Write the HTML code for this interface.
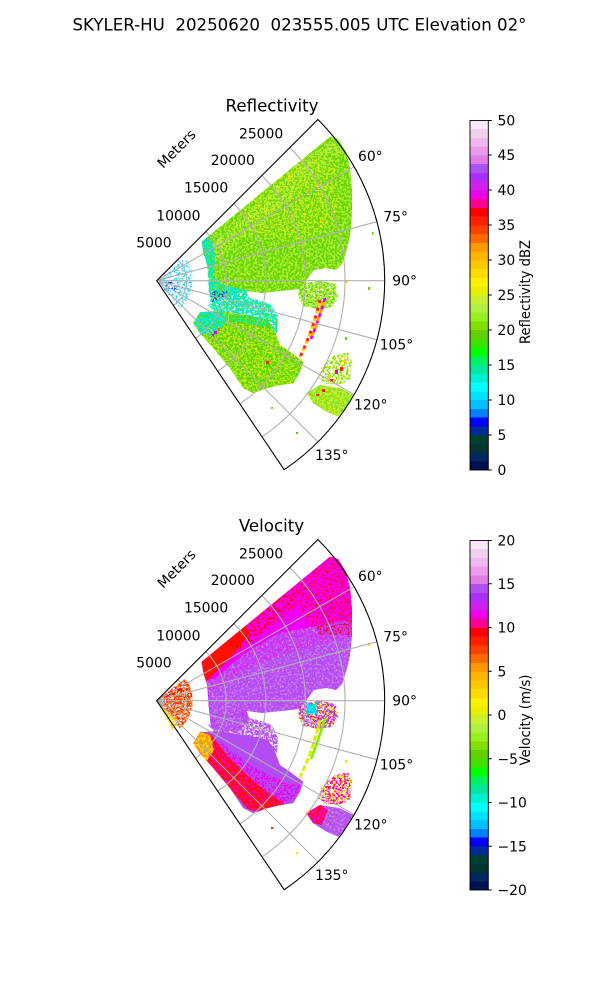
<!DOCTYPE html>
<html><head><meta charset="utf-8"><style>
html,body{margin:0;padding:0;background:#fff;}
svg{display:block;font-family:"DejaVu Sans","Liberation Sans",sans-serif;}
</style></head><body>
<svg width="600" height="1000" viewBox="0 0 600 1000" xmlns="http://www.w3.org/2000/svg">
<defs>
<filter id="f70" filterUnits="userSpaceOnUse" x="0" y="0" width="600" height="1000" color-interpolation-filters="sRGB">
<feTurbulence type="fractalNoise" baseFrequency="0.45" numOctaves="2" seed="5" result="t"/>
<feColorMatrix in="t" type="matrix" values="0 0 0 0 0 0 0 0 0 0 0 0 0 0 0 30 0 0 0 -13.2" result="m"/>
<feComposite in="SourceGraphic" in2="m" operator="in"/>
</filter>
<filter id="f50" filterUnits="userSpaceOnUse" x="0" y="0" width="600" height="1000" color-interpolation-filters="sRGB">
<feTurbulence type="fractalNoise" baseFrequency="0.45" numOctaves="2" seed="3" result="t"/>
<feColorMatrix in="t" type="matrix" values="0 0 0 0 0 0 0 0 0 0 0 0 0 0 0 30 0 0 0 -15" result="m"/>
<feComposite in="SourceGraphic" in2="m" operator="in"/>
</filter>
<filter id="f30" filterUnits="userSpaceOnUse" x="0" y="0" width="600" height="1000" color-interpolation-filters="sRGB">
<feTurbulence type="fractalNoise" baseFrequency="0.5" numOctaves="2" seed="7" result="t"/>
<feColorMatrix in="t" type="matrix" values="0 0 0 0 0 0 0 0 0 0 0 0 0 0 0 30 0 0 0 -16.8" result="m"/>
<feComposite in="SourceGraphic" in2="m" operator="in"/>
</filter>
<filter id="f12" filterUnits="userSpaceOnUse" x="0" y="0" width="600" height="1000" color-interpolation-filters="sRGB">
<feTurbulence type="fractalNoise" baseFrequency="0.5" numOctaves="2" seed="11" result="t"/>
<feColorMatrix in="t" type="matrix" values="0 0 0 0 0 0 0 0 0 0 0 0 0 0 0 30 0 0 0 -18.6" result="m"/>
<feComposite in="SourceGraphic" in2="m" operator="in"/>
</filter>
<filter id="f12b" filterUnits="userSpaceOnUse" x="0" y="0" width="600" height="1000" color-interpolation-filters="sRGB">
<feTurbulence type="fractalNoise" baseFrequency="0.5" numOctaves="2" seed="23" result="t"/>
<feColorMatrix in="t" type="matrix" values="0 0 0 0 0 0 0 0 0 0 0 0 0 0 0 30 0 0 0 -18.6" result="m"/>
<feComposite in="SourceGraphic" in2="m" operator="in"/>
</filter>

<path id="pM" d="M201.7,241.7 L330,136.7 L338,139 L346,152 L350,168 L352,190 L352,215 L350,236 L346,252 L342,264 L336,270 L326,268 L314,270 L308,278 L300,289 L262,293 L247,291 L225,297 L211,300 L210,285 L208,265 L204,255 Z"/>
<path id="pLR" d="M300,284 L320,281 L336,284 L338,298 L332,307 L318,309 L303,306 L298,296 Z"/>
<path id="pCI" d="M201.7,241.7 L208,237 L214,246 L215,262 L213,276 L222,285 L246,290 L250,300 L240,310 L224,312 L211,308 L209,290 L207,265 L203,252 Z"/>
<path id="pMC" d="M222,297 L240,296 L258,300 L272,305 L278,318 L277,333 L268,330 L253,318 L235,313 L215,312 L208,305 Z"/>
<path id="pB" d="M193.3,323.3 L200,312.3 L216.7,311 L233.3,313.3 L253.3,316.7 L268.3,320 L275,331.7 L280,345 L290,351.7 L303.3,361.7 L300,371.7 L293.3,383.3 L280,385 L266.7,388.3 L253.3,393.3 L243.3,388.3 L230,368.3 L213.3,348.3 L200,333.3 Z"/>
<path id="pSES" d="M321.7,366.7 L333,356 L348,352 L352,362 L350,380 L338,385 L326.7,384 L318,378 Z"/>
<path id="pSEB" d="M306.7,393.3 L320,385 L340,388.3 L353.3,395 L346.7,406.7 L338.3,416.7 L326.7,411.7 L313.3,403.3 Z"/>
<path id="pNC" d="M156.7,280.7 L185.1,258.5 A36,36 0 0 1 179.8,308.3 Z"/>
<clipPath id="cM"><use href="#pM"/></clipPath>
<clipPath id="cB"><use href="#pB"/></clipPath>

<g id="grid" fill="none" stroke="#b0b0b0" stroke-width="1.1">
<path d="M156.7,280.7 L354.2,166.7 M156.7,280.7 L376.9,221.7 M156.7,280.7 L384.7,280.7 M156.7,280.7 L376.9,339.7 M156.7,280.7 L354.2,394.7 M156.7,280.7 L317.9,441.9"/>
<path d="M177.84,259.56 A29.9,29.9 0 0 1 173.42,305.49 M205.84,231.56 A69.5,69.5 0 0 1 195.56,338.32 M233.84,203.56 A109.1,109.1 0 0 1 217.71,371.14 M261.85,175.55 A148.7,148.7 0 0 1 239.85,403.97 M289.85,147.55 A188.3,188.3 0 0 1 262,436.8"/>
</g>
<path id="frame" d="M156.7,280.7 L317.9,119.5 A228,228 0 0 1 284.2,469.7 Z" fill="none" stroke="#000" stroke-width="1.1"/>
<g id="lbl" font-size="13.9" fill="#000">
<text x="239" y="138.3">25000</text>
<text x="210.7" y="165">20000</text>
<text x="184" y="192.7">15000</text>
<text x="156.3" y="220.7">10000</text>
<text x="136.3" y="247.3">5000</text>
<text transform="translate(176.7,149) rotate(-45)" text-anchor="middle" y="4.5">Meters</text>
<text x="358" y="161">60°</text>
<text x="383.3" y="221.7">75°</text>
<text x="392.3" y="285.3">90°</text>
<text x="379.7" y="349.3">105°</text>
<text x="354" y="409.3">120°</text>
<text x="315" y="460">135°</text>
</g>

<linearGradient id="cmap" x1="0" y1="1" x2="0" y2="0">
<stop offset="0" stop-color="#001050"/><stop offset="0.025" stop-color="#001050"/>
<stop offset="0.025" stop-color="#002860"/><stop offset="0.05" stop-color="#002860"/>
<stop offset="0.05" stop-color="#003830"/><stop offset="0.075" stop-color="#003830"/>
<stop offset="0.075" stop-color="#004030"/><stop offset="0.1" stop-color="#004030"/>
<stop offset="0.1" stop-color="#002a9a"/><stop offset="0.125" stop-color="#002a9a"/>
<stop offset="0.125" stop-color="#0000ff"/><stop offset="0.15" stop-color="#0000ff"/>
<stop offset="0.15" stop-color="#0080ff"/><stop offset="0.175" stop-color="#0080ff"/>
<stop offset="0.175" stop-color="#00c0ff"/><stop offset="0.2" stop-color="#00c0ff"/>
<stop offset="0.2" stop-color="#00e0ff"/><stop offset="0.225" stop-color="#00e0ff"/>
<stop offset="0.225" stop-color="#00ffff"/><stop offset="0.25" stop-color="#00ffff"/>
<stop offset="0.25" stop-color="#00f0d0"/><stop offset="0.275" stop-color="#00f0d0"/>
<stop offset="0.275" stop-color="#00e8a0"/><stop offset="0.3" stop-color="#00e8a0"/>
<stop offset="0.3" stop-color="#00f060"/><stop offset="0.325" stop-color="#00f060"/>
<stop offset="0.325" stop-color="#00ff00"/><stop offset="0.35" stop-color="#00ff00"/>
<stop offset="0.35" stop-color="#40e000"/><stop offset="0.375" stop-color="#40e000"/>
<stop offset="0.375" stop-color="#60d000"/><stop offset="0.4" stop-color="#60d000"/>
<stop offset="0.4" stop-color="#80e000"/><stop offset="0.425" stop-color="#80e000"/>
<stop offset="0.425" stop-color="#98f020"/><stop offset="0.45" stop-color="#98f020"/>
<stop offset="0.45" stop-color="#b0f040"/><stop offset="0.475" stop-color="#b0f040"/>
<stop offset="0.475" stop-color="#c8f030"/><stop offset="0.5" stop-color="#c8f030"/>
<stop offset="0.5" stop-color="#e8f000"/><stop offset="0.525" stop-color="#e8f000"/>
<stop offset="0.525" stop-color="#fff000"/><stop offset="0.55" stop-color="#fff000"/>
<stop offset="0.55" stop-color="#ffdc00"/><stop offset="0.575" stop-color="#ffdc00"/>
<stop offset="0.575" stop-color="#ffc800"/><stop offset="0.6" stop-color="#ffc800"/>
<stop offset="0.6" stop-color="#ffb400"/><stop offset="0.625" stop-color="#ffb400"/>
<stop offset="0.625" stop-color="#ff9800"/><stop offset="0.65" stop-color="#ff9800"/>
<stop offset="0.65" stop-color="#ff6a00"/><stop offset="0.675" stop-color="#ff6a00"/>
<stop offset="0.675" stop-color="#ff4000"/><stop offset="0.7" stop-color="#ff4000"/>
<stop offset="0.7" stop-color="#ff2000"/><stop offset="0.725" stop-color="#ff2000"/>
<stop offset="0.725" stop-color="#ff0000"/><stop offset="0.75" stop-color="#ff0000"/>
<stop offset="0.75" stop-color="#ff0090"/><stop offset="0.775" stop-color="#ff0090"/>
<stop offset="0.775" stop-color="#f000e8"/><stop offset="0.8" stop-color="#f000e8"/>
<stop offset="0.8" stop-color="#d020f0"/><stop offset="0.825" stop-color="#d020f0"/>
<stop offset="0.825" stop-color="#a830f8"/><stop offset="0.85" stop-color="#a830f8"/>
<stop offset="0.85" stop-color="#b050f0"/><stop offset="0.875" stop-color="#b050f0"/>
<stop offset="0.875" stop-color="#e07ce8"/><stop offset="0.9" stop-color="#e07ce8"/>
<stop offset="0.9" stop-color="#ec9ce8"/><stop offset="0.925" stop-color="#ec9ce8"/>
<stop offset="0.925" stop-color="#f0b8f0"/><stop offset="0.95" stop-color="#f0b8f0"/>
<stop offset="0.95" stop-color="#f4d0f0"/><stop offset="0.975" stop-color="#f4d0f0"/>
<stop offset="0.975" stop-color="#f8e8f8"/><stop offset="1" stop-color="#f8e8f8"/>
</linearGradient>
</defs>

<rect width="600" height="1000" fill="#fff"/>

<text x="72.5" y="30.7" font-size="16.67" textLength="454" lengthAdjust="spacingAndGlyphs" style="white-space:pre">SKYLER-HU  20250620  023555.005 UTC Elevation 02°</text>

<!-- ================= REFLECTIVITY ================= -->
<g>
<text x="272" y="111.7" font-size="16.67" text-anchor="middle">Reflectivity</text>
<!-- near center -->
<use href="#pNC" fill="#40e8f0" filter="url(#f30)"/>
<use href="#pNC" fill="#20c0ff" filter="url(#f12)"/>
<rect x="164" y="282" width="14" height="8" fill="#0030ff" filter="url(#f30)"/>
<!-- main block -->
<use href="#pM" fill="#66d606"/>
<use href="#pM" fill="#acec34" filter="url(#f50)"/>
<path d="M235,200 L300,158 L335,160 L340,220 L300,240 L250,235 Z" fill="#f4f000" filter="url(#f12)" clip-path="url(#cM)"/>
<path d="M205,250 L330,140 L345,150 L215,262 Z" fill="#c8f040" filter="url(#f30)" clip-path="url(#cM)"/>
<use href="#pLR" fill="#66d606" filter="url(#f70)"/>
<use href="#pLR" fill="#b0ee38" filter="url(#f50)"/>
<!-- inner cyan -->
<use href="#pCI" fill="#00f0c8" filter="url(#f70)"/>
<use href="#pCI" fill="#00d8ff" filter="url(#f30)"/>
<use href="#pCI" fill="#50e020" filter="url(#f12)"/>
<rect x="211" y="291" width="17" height="14" fill="#0040ff" filter="url(#f30)"/>
<rect x="213" y="294" width="12" height="8" fill="#0020e0" filter="url(#f12)"/>
<!-- mid cyan -->
<use href="#pMC" fill="#10f0b8" filter="url(#f70)"/>
<use href="#pMC" fill="#00e0f8" filter="url(#f30)"/>
<use href="#pMC" fill="#50e020" filter="url(#f12b)"/>
<!-- southern band -->
<use href="#pB" fill="#5ad400"/>
<use href="#pB" fill="#9ee82c" filter="url(#f50)"/>
<use href="#pB" fill="#e8f000" filter="url(#f12)"/>
<path d="M193.3,323.3 L200,312.3 L222,311 L226,322 L214,336 L200,333.3 Z" fill="#00f0b0" filter="url(#f70)"/>
<path d="M193.3,323.3 L200,312.3 L222,311 L226,322 L214,336 L200,333.3 Z" fill="#00e0f0" filter="url(#f30)"/>
<path d="M200,312.3 L253,316.7 L268,320 L272,328 L250,324 L215,321 Z" fill="#10f0a0" filter="url(#f50)"/>
<rect x="211" y="334" width="3" height="3" fill="#ff2020"/>
<rect x="214" y="331" width="3" height="3" fill="#e000e0"/>
<rect x="218" y="328" width="2" height="3" fill="#ff6000"/>
<rect x="266" y="361" width="3" height="3" fill="#ff2000"/>
<rect x="257" y="374" width="3" height="2" fill="#ffe000"/>
<rect x="235" y="355" width="3" height="2" fill="#ffd000"/>
<rect x="246" y="343" width="2" height="2" fill="#ffe000"/>
<!-- arcs -->
<path d="M320,300 Q313,330 300,357" fill="none" stroke="#ff2020" stroke-width="3" stroke-dasharray="5 3"/>
<path d="M320,300 Q313,330 300,357" fill="none" stroke="#ffd000" stroke-width="3" stroke-dasharray="3 5" stroke-dashoffset="5"/>
<path d="M325,298 Q319,319 311,339" fill="none" stroke="#e000e0" stroke-width="2.8" stroke-dasharray="4 4"/>
<path d="M325,298 Q319,319 311,339" fill="none" stroke="#ffa000" stroke-width="2.8" stroke-dasharray="4 4" stroke-dashoffset="4"/>
<!-- SE streaks & blob -->
<use href="#pSES" fill="#80e010" filter="url(#f50)"/>
<use href="#pSES" fill="#f0e000" filter="url(#f12)"/>
<rect x="335" y="370" width="3" height="4" fill="#e000e0"/>
<rect x="340" y="367" width="3" height="4" fill="#ff2000"/>
<rect x="330" y="379" width="3" height="3" fill="#ff2000"/>
<rect x="327" y="376" width="3" height="3" fill="#ffd000"/>
<rect x="344" y="360" width="2" height="4" fill="#ffc000"/>
<use href="#pSEB" fill="#88e020"/>
<use href="#pSEB" fill="#b8f040" filter="url(#f50)"/>
<use href="#pSEB" fill="#f0f000" filter="url(#f12)"/>
<rect x="322" y="389" width="3" height="3" fill="#ff2000"/>
<rect x="316" y="394" width="3" height="2" fill="#ff4000"/>
<!-- scattered -->
<rect x="296" y="432" width="2" height="2" fill="#50d000"/>
<rect x="271" y="407" width="2" height="2" fill="#60d800"/>
<rect x="368" y="287" width="2" height="3" fill="#60d800"/>
<rect x="345" y="280" width="3" height="3" fill="#ffe000"/>
<rect x="372" y="232" width="1.5" height="3" fill="#60d800"/>
<rect x="345" y="337" width="2" height="3" fill="#60d800"/>
<use href="#grid"/>
<use href="#frame"/>
<use href="#lbl"/>
</g>

<!-- ================= VELOCITY ================= -->
<text x="271.5" y="531.7" font-size="16.67" text-anchor="middle">Velocity</text>
<g transform="translate(0,420)">
<!-- near center -->
<use href="#pNC" fill="#ff3000" filter="url(#f70)"/>
<use href="#pNC" fill="#ff8000" filter="url(#f30)"/>
<path d="M156.7,280.7 L185,262 L184,272 Z" fill="#ff1000" filter="url(#f70)"/>
<path d="M156.7,280.7 L180,302 L172,310 Z" fill="#ffe000" filter="url(#f70)"/>
<use href="#pCI" fill="#b84cf2"/>
<use href="#pCI" fill="#f000f0" filter="url(#f12)"/>
<!-- main block -->
<use href="#pM" fill="#b64af4"/>
<rect x="190" y="120" width="170" height="190" fill="#cc80f0" filter="url(#f30)" clip-path="url(#cM)"/>
<path d="M190,250 L330,120 L360,150 L360,215 L320,225 L280,235 L245,250 L215,270 L200,270 Z" fill="#dc28f0" filter="url(#f50)" clip-path="url(#cM)"/>
<path d="M190,248 L330,125 L360,150 L355,198 L311.7,206.7 L278.3,213.3 L245,233.3 L215,258 L200,262 Z" fill="#f000f0" clip-path="url(#cM)"/>
<path d="M195,248 L245,205 L250,213 L232,236 L214,254 L205,262 Z" fill="#ff1000" clip-path="url(#cM)"/>
<path d="M220,225 L300,160 L312,172 L240,232 Z" fill="#ff0000" filter="url(#f30)" clip-path="url(#cM)"/>
<path d="M290,150 L335,130 L360,160 L360,215 L320,215 L300,190 Z" fill="#ff0030" filter="url(#f30)" clip-path="url(#cM)"/>
<use href="#pLR" fill="#b450f0" filter="url(#f70)"/>
<use href="#pLR" fill="#ff1010" filter="url(#f12)"/>
<use href="#pLR" fill="#ffe000" filter="url(#f12b)"/>
<rect x="307" y="284" width="9" height="9" fill="#00f0f0"/>
<rect x="305" y="282" width="13" height="13" fill="#00c8ff" filter="url(#f50)"/>
<!-- mid -->
<use href="#pMC" fill="#b44cf4" filter="url(#f70)"/>
<use href="#pMC" fill="#cc80f0" filter="url(#f30)"/>
<!-- southern band -->
<use href="#pB" fill="#b44cf4"/>
<path d="M215,318 L250,345 L290,365 L303,362 L300,372 L285,384 L266,372 L230,340 Z" fill="#f000f0" filter="url(#f50)" clip-path="url(#cB)"/>
<path d="M193.3,323.3 L200,311.7 L211.7,315 L226.7,335 L246.7,355 L266.7,371.7 L285,384 L260,393.3 L246.7,388.3 L230,368.3 L213.3,348.3 L200,333.3 Z" fill="#ff0c10" clip-path="url(#cB)"/>
<path d="M193.3,323.3 L200,311.7 L211.7,315 L226.7,335 L246.7,355 L266.7,371.7 L285,384 L260,393.3 L246.7,388.3 L230,368.3 L213.3,348.3 L200,333.3 Z" fill="#ff00c8" filter="url(#f30)" clip-path="url(#cB)"/>
<path d="M193.3,323.3 L200,312 L210,315 L214,330 L206,342 L200,333 Z" fill="#ff9000" clip-path="url(#cB)"/>
<path d="M193.3,323.3 L200,312 L210,315 L214,330 L206,342 L200,333 Z" fill="#ffe000" filter="url(#f50)" clip-path="url(#cB)"/>
<!-- arcs -->
<path d="M320,300 Q313,330 300,357" fill="none" stroke="#c8f000" stroke-width="2.8" stroke-dasharray="5 3"/>
<path d="M320,300 Q313,330 300,357" fill="none" stroke="#ffe000" stroke-width="2.8" stroke-dasharray="3 5" stroke-dashoffset="5"/>
<path d="M325,298 Q319,319 311,339" fill="none" stroke="#80f000" stroke-width="2.6"/>
<!-- SE -->
<use href="#pSES" fill="#f000f0" filter="url(#f50)"/>
<use href="#pSES" fill="#ffe000" filter="url(#f30)"/>
<use href="#pSES" fill="#ff1010" filter="url(#f12)"/>
<use href="#pSEB" fill="#b450f0"/>
<use href="#pSEB" fill="#cc80f0" filter="url(#f30)"/>
<path d="M306,393 L320,385 L328,390 L322,405 L313,403 Z" fill="#ff1010"/>
<path d="M306,393 L320,385 L328,390 L322,405 L313,403 Z" fill="#f000f0" filter="url(#f50)"/>
<rect x="296" y="432" width="2" height="2" fill="#ffe000"/>
<rect x="271" y="407" width="2" height="2" fill="#ff2000"/>
<rect x="368" y="223" width="2" height="3" fill="#ffe000"/>
<rect x="345" y="340" width="2" height="3" fill="#ffe000"/>
<use href="#grid"/>
<use href="#frame"/>
<use href="#lbl"/>
</g>

<!-- ================= COLORBARS ================= -->
<rect x="470" y="120.5" width="18.3" height="349.5" fill="url(#cmap)" stroke="#000" stroke-width="0.9"/>
<rect x="470" y="540.5" width="18.3" height="349.5" fill="url(#cmap)" stroke="#000" stroke-width="0.9"/>
<g stroke="#000" stroke-width="0.9">
<path d="M488.3,470 h3.5 M488.3,435 h3.5 M488.3,400 h3.5 M488.3,365 h3.5 M488.3,330 h3.5 M488.3,295 h3.5 M488.3,260 h3.5 M488.3,225 h3.5 M488.3,190 h3.5 M488.3,155 h3.5 M488.3,120.5 h3.5"/>
<path d="M488.3,890 h3.5 M488.3,846.25 h3.5 M488.3,802.5 h3.5 M488.3,758.75 h3.5 M488.3,715 h3.5 M488.3,671.25 h3.5 M488.3,627.5 h3.5 M488.3,583.75 h3.5 M488.3,540.5 h3.5"/>
</g>
<g font-size="13.9" fill="#000">
<text x="497.5" y="475">0</text>
<text x="497.5" y="440">5</text>
<text x="497.5" y="405">10</text>
<text x="497.5" y="370">15</text>
<text x="497.5" y="335">20</text>
<text x="497.5" y="300">25</text>
<text x="497.5" y="265">30</text>
<text x="497.5" y="230">35</text>
<text x="497.5" y="195">40</text>
<text x="497.5" y="160">45</text>
<text x="497.5" y="125.5">50</text>
<text x="497.5" y="895">−20</text>
<text x="497.5" y="851.25">−15</text>
<text x="497.5" y="807.5">−10</text>
<text x="497.5" y="763.75">−5</text>
<text x="497.5" y="720">0</text>
<text x="497.5" y="676.25">5</text>
<text x="497.5" y="632.5">10</text>
<text x="497.5" y="588.75">15</text>
<text x="497.5" y="545.5">20</text>
<text transform="translate(530,292) rotate(-90)" text-anchor="middle" textLength="104" lengthAdjust="spacingAndGlyphs">Reflectivity dBZ</text>
<text transform="translate(530,720) rotate(-90)" text-anchor="middle" textLength="91" lengthAdjust="spacingAndGlyphs">Velocity (m/s)</text>
</g>
</svg>
</body></html>
